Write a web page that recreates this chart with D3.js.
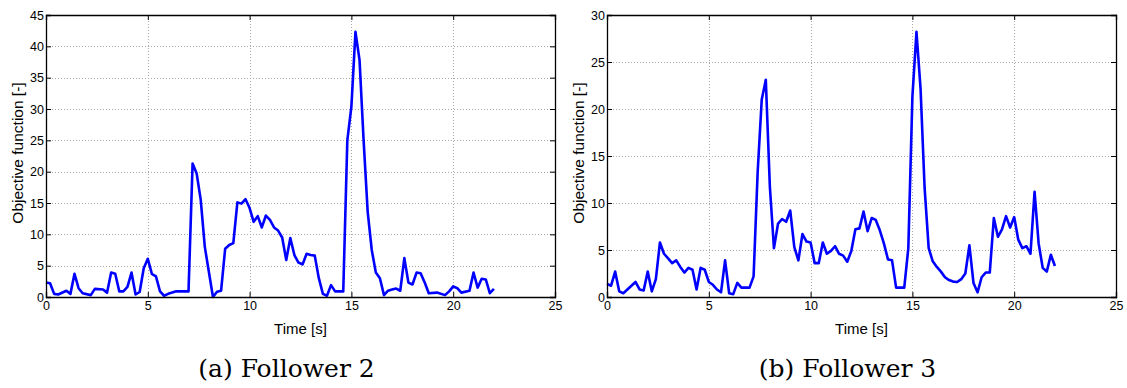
<!DOCTYPE html>
<html>
<head>
<meta charset="utf-8">
<script src="https://cdn.jsdelivr.net/npm/d3@7"></script>
<style>
  body { margin: 0; background: #fff; }
  svg { display: block; }
  .tick text { font-family: "Liberation Sans", Arial, sans-serif; font-size: 12.5px; fill: #000; }
</style>
</head>
<body>
<div id="chart"></div>
<script>
// Follower 2 -- time [s] and objective value
var timeF2 = [0, 0.2, 0.4, 0.6, 1.0, 1.2, 1.4, 1.6, 1.8, 2.2, 2.4, 2.8, 3.0, 3.2, 3.4, 3.6, 3.8, 4.0, 4.2, 4.4,
  4.6, 4.8, 5.0, 5.2, 5.4, 5.6, 5.8, 6.0, 6.4, 7.0, 7.2, 7.4, 7.6, 7.8, 8.2, 8.4, 8.6, 8.8, 9.0, 9.2,
  9.4, 9.6, 9.8, 10.0, 10.2, 10.4, 10.6, 10.8, 11.0, 11.2, 11.4, 11.6, 11.8, 12.0, 12.2, 12.4, 12.6, 12.8, 13.0, 13.2,
  13.4, 13.6, 13.8, 14.0, 14.2, 14.6, 14.8, 15.0, 15.2, 15.4, 15.6, 15.8, 16.0, 16.2, 16.4, 16.6, 16.8, 17.0, 17.2, 17.4,
  17.6, 17.8, 18.0, 18.2, 18.4, 18.6, 18.8, 19.2, 19.6, 19.8, 20.0, 20.2, 20.4, 20.8, 21.0, 21.2, 21.4, 21.6, 21.8, 22.0];
var objF2 = [2.3, 2.2, 0.5, 0.4, 1.0, 0.5, 3.7, 1.4, 0.6, 0.3, 1.3, 1.2, 0.7, 3.9, 3.7, 0.9, 0.9, 1.6, 3.9, 0.4,
  0.8, 4.6, 6.1, 3.7, 3.3, 0.9, 0.2, 0.5, 0.9, 0.9, 21.3, 19.7, 15.5, 8.0, 0.0, 0.85, 1.0, 7.7, 8.3, 8.6,
  15.1, 14.9, 15.6, 14.2, 12.0, 12.9, 11.1, 13.0, 12.3, 11.1, 10.6, 9.5, 5.9, 9.4, 6.7, 5.5, 5.2, 6.9, 6.7, 6.6,
  3.0, 0.5, 0.2, 1.9, 0.9, 0.9, 25.0, 30.4, 42.3, 37.8, 25.0, 13.6, 7.5, 3.9, 3.0, 0.3, 1.0, 1.2, 1.35, 1.0,
  6.2, 2.3, 2.0, 3.9, 3.8, 2.3, 0.6, 0.7, 0.3, 0.9, 1.7, 1.4, 0.7, 1.0, 3.9, 1.5, 2.9, 2.8, 0.6, 1.3];

// Follower 3
var timeF3 = [0, 0.2, 0.4, 0.6, 0.8, 1.4, 1.6, 1.8, 2.0, 2.2, 2.4, 2.6, 2.8, 3.0, 3.2, 3.4, 3.6, 3.8, 4.0, 4.2,
  4.4, 4.6, 4.8, 5.0, 5.2, 5.4, 5.6, 5.8, 6.0, 6.2, 6.4, 6.6, 7.0, 7.2, 7.4, 7.6, 7.8, 8.0, 8.2, 8.4,
  8.6, 8.8, 9.0, 9.2, 9.4, 9.6, 9.8, 10.0, 10.2, 10.4, 10.6, 10.8, 11.0, 11.2, 11.4, 11.6, 11.8, 12.0, 12.2, 12.4,
  12.6, 12.8, 13.0, 13.2, 13.4, 13.6, 13.8, 14.0, 14.2, 14.6, 14.8, 15.0, 15.2, 15.4, 15.6, 15.8, 16.0, 16.2, 16.4, 16.6,
  16.8, 17.0, 17.2, 17.4, 17.6, 17.8, 18.0, 18.2, 18.4, 18.6, 18.8, 19.0, 19.2, 19.4, 19.6, 19.8, 20.0, 20.2, 20.4, 20.6,
  20.8, 21.0, 21.2, 21.4, 21.6, 21.8, 22.0];
var objF3 = [1.4, 1.2, 2.7, 0.6, 0.4, 1.6, 0.8, 0.7, 2.7, 0.6, 1.9, 5.8, 4.6, 4.1, 3.6, 3.9, 3.2, 2.6, 3.1, 2.9,
  0.8, 3.1, 2.9, 1.6, 1.3, 0.8, 0.5, 3.9, 0.4, 0.3, 1.5, 1.0, 1.0, 2.2, 13.3, 21.0, 23.1, 11.7, 5.2, 7.8,
  8.3, 8.0, 9.2, 5.3, 3.9, 6.7, 5.9, 5.8, 3.6, 3.6, 5.8, 4.6, 4.9, 5.4, 4.6, 4.4, 3.75, 4.9, 7.2, 7.3,
  9.1, 7.0, 8.4, 8.2, 7.1, 5.7, 4.0, 3.9, 1.0, 1.0, 5.2, 21.3, 28.2, 22.2, 11.6, 5.2, 3.8, 3.2, 2.7, 2.1,
  1.8, 1.64, 1.6, 1.9, 2.5, 5.5, 1.5, 0.5, 2.1, 2.6, 2.6, 8.4, 6.4, 7.2, 8.6, 7.4, 8.5, 6.1, 5.2, 5.4,
  4.6, 11.2, 5.7, 3.1, 2.7, 4.5, 3.3];

var xTicks = [0, 5, 10, 15, 20, 25];
var yTicksF2 = [0, 5, 10, 15, 20, 25, 30, 35, 40, 45];
var yTicksF3 = [0, 5, 10, 15, 20, 25, 30];
var captions = ["(a) Follower 2", "(b) Follower 3"];

var W = 1127, H = 388;
var svg = d3.select("#chart").append("svg")
  .attr("width", W)
  .attr("height", H);

var sans = "'Liberation Sans', Arial, sans-serif";

function drawPanel(left, times, vals, yTicks, caption) {
  var top = 15, w = 509, h = 282;
  var yMax = yTicks[yTicks.length - 1];

  var x = d3.scaleLinear().domain([0, 25]).range([0, w]);
  var y = d3.scaleLinear().domain([0, yMax]).range([h, 0]);

  var g = svg.append("g").attr("transform", "translate(" + left + "," + top + ")");

  // dotted grid
  g.selectAll(".gx").data(xTicks.slice(1, -1)).enter().append("line")
    .attr("x1", function (d) { return Math.round(x(d)) + 0.5; })
    .attr("x2", function (d) { return Math.round(x(d)) + 0.5; })
    .attr("y1", 0).attr("y2", h)
    .attr("stroke", "#a8a8a8").attr("stroke-dasharray", "1,2");
  g.selectAll(".gy").data(yTicks.slice(1, -1)).enter().append("line")
    .attr("y1", function (d) { return Math.round(y(d)) + 0.5; })
    .attr("y2", function (d) { return Math.round(y(d)) + 0.5; })
    .attr("x1", 0).attr("x2", w)
    .attr("stroke", "#a8a8a8").attr("stroke-dasharray", "1,2");

  // the series
  var pts = times.map(function (t, i) { return [t, vals[i]]; });
  var line = d3.line()
    .x(function (d) { return x(d[0]); })
    .y(function (d) { return y(d[1]); });
  g.append("path")
    .datum(pts)
    .attr("d", line)
    .attr("fill", "none")
    .attr("stroke", "#0000ff")
    .attr("stroke-width", 2.6)
    .attr("stroke-linejoin", "round");

  // axes, ticks pointing inward (matlab style)
  var xb = g.append("g").attr("transform", "translate(0," + h + ")")
    .call(d3.axisBottom(x).tickValues(xTicks).tickSize(-5).tickPadding(4).tickFormat(d3.format("d")));
  var xt = g.append("g")
    .call(d3.axisTop(x).tickValues(xTicks).tickSize(-5).tickFormat(""));
  var yl = g.append("g")
    .call(d3.axisLeft(y).tickValues(yTicks).tickSize(-5).tickPadding(2).tickFormat(d3.format("d")));
  var yr = g.append("g").attr("transform", "translate(" + w + ",0)")
    .call(d3.axisRight(y).tickValues(yTicks).tickSize(-5).tickFormat(""));
  [xb, xt, yl, yr].forEach(function (a) {
    a.attr("font-family", null).attr("font-size", null);
    a.select(".domain").attr("stroke", "#000").attr("stroke-width", 1.3);
    a.selectAll(".tick line").attr("stroke", "#000");
  });

  g.append("text")
    .attr("x", w / 2).attr("y", h + 37)
    .attr("text-anchor", "middle")
    .style("font-family", sans)
    .style("font-size", "15px")
    .text("Time [s]");

  g.append("text")
    .attr("transform", "translate(-23," + (h / 2 - 3) + ") rotate(-90)")
    .attr("text-anchor", "middle")
    .style("font-family", sans)
    .style("font-size", "15.5px")
    .text("Objective function [-]");

  g.append("text")
    .attr("x", w / 2 - 14).attr("y", h + 80)
    .attr("text-anchor", "middle")
    .style("font-family", "'DejaVu Serif', serif")
    .style("font-size", "25px")
    .text(caption);
}

drawPanel(46, timeF2, objF2, yTicksF2, captions[0]);
drawPanel(607, timeF3, objF3, yTicksF3, captions[1]);
</script>
</body>
</html>
